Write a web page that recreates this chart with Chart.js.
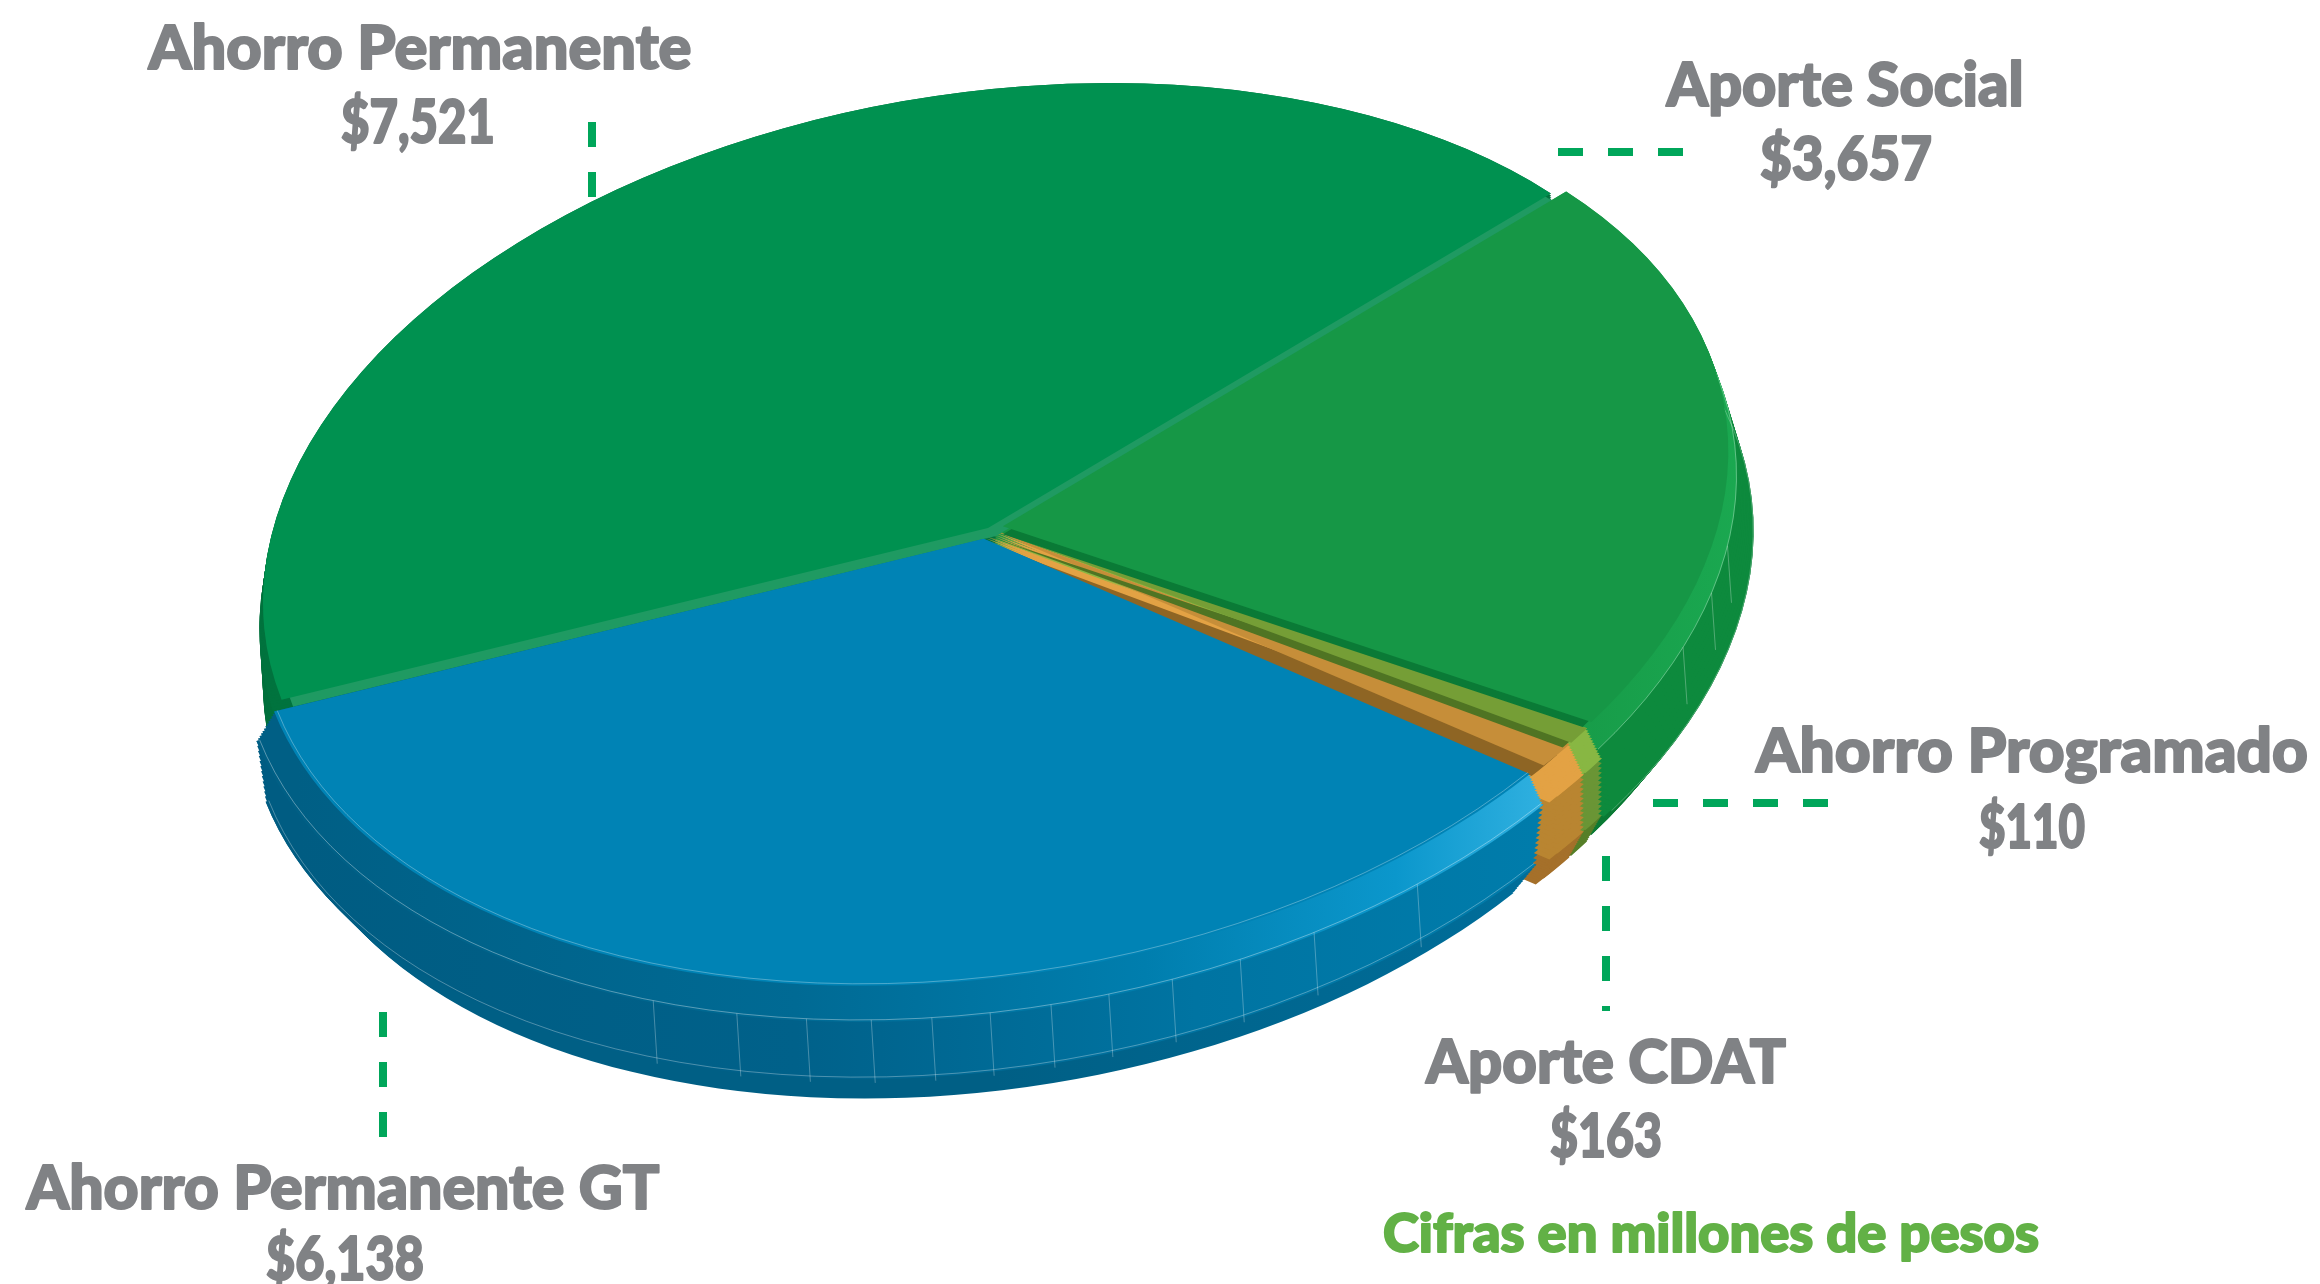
<!DOCTYPE html>
<html>
<head>
<meta charset="utf-8">
<title>Ahorros</title>
<script src="https://cdn.jsdelivr.net/npm/chart.js@4"></script>
<style>
  html, body { margin: 0; background: #fff; }
  canvas { display: block; }
</style>
</head>
<body>
<canvas id="myChart" width="2320" height="1284"></canvas>
<script>
const categories = ["Ahorro Permanente", "Aporte Social", "Ahorro Programado", "Aporte CDAT", "Ahorro Permanente GT"];
const values = [7521, 3657, 110, 163, 6138];
const note = "Cifras en millones de pesos";

// colours per slice
const topColors = ["#009150", "#169746", "#759e36", "#c68e39", "#0083b5"];
const wallColors = ["#00703c", "#0d8a3d", "#6a9535", "#b98531", "#0078a6"];
const lipColors = ["#006a38", "#0a7a34", "#567f28", "#a5702a", "#00608a"];
const bevelColors = ["#00733e", "#17a04b", "#88b743", "#e3a244", "#0083b5"];
const stepColors = ["#1f9a62", "#0a7a36", "#4f7423", "#8e6524", "#0083b5"];
const explode = [0, 50, 25, 25, 60];

// how far each rim layer sticks out past the flat top, per slice
const topGrow = [1, 1, 1, 1, 1];
const bevelGrow = [1.005, 1.012, 1.025, 1.025, 1.025];
const wallGrow = [1, 1.035, 1.025, 1.025, 1.012];
const lipGrow = [0.99, 1, 1, 1, 0.97];
const topDrops = [0, 0, 0, 0, 0];
const bevelDrops = [25, 25, 25, 25, 25];
const wallDrops = [82, 82, 82, 82, 88];
const lipDrops = [113, 113, 113, 113, 126];

// where the flat top of the pie sits on the page (tilted ellipse)
const pieCenter = { x: 988, y: 528 };
const pieAxes = { xx: 725, yx: -74.9, yy: 438.6 };

// faint seams on the side wall, slice index -> angle in degrees
const seams = {
  1: [9, 15, 22],
  4: [54.3, 63.6, 69.8, 75.3, 80.3, 84.8, 89.5, 94, 98.7, 103.8, 109.4, 116.4],
};

const labelSpots = [
  { x: 420, y: 69, w: 543, vx: 418, vy: 143, vw: 154 },
  { x: 1845, y: 106, w: 357, vx: 1846, vy: 180, vw: 172 },
  { x: 2032, y: 772, w: 552, vx: 2032, vy: 848, vw: 106 },
  { x: 1606, y: 1083, w: 360, vx: 1606, vy: 1157, vw: 112 },
  { x: 343, y: 1209, w: 633, vx: 345, vy: 1280, vw: 158 },
];

const leaders = [
  [592, 122, 592, 197],
  [1558, 152, 1683, 152],
  [1653, 803, 1832, 803],
  [1606, 856, 1606, 1011],
  [383, 1012, 383, 1137],
];

function viewOf(arc) {
  const r = arc.outerRadius;
  const a = pieAxes.xx / r, b = pieAxes.yx / r, d = pieAxes.yy / r;
  return { a, b, c: 0, d, e: pieCenter.x - a * arc.x, f: pieCenter.y - b * arc.x - d * arc.y };
}

function xGradient(ctx, view, stops) {
  const g = ctx.createLinearGradient((stops[0][0] - view.e) / view.a, 0, (stops[stops.length - 1][0] - view.e) / view.a, 0);
  const first = stops[0][0];
  const span = stops[stops.length - 1][0] - first;
  stops.forEach((s) => g.addColorStop((s[0] - first) / span, s[1]));
  return g;
}

const pie3d = {
  id: "pie3d",
  beforeDatasetsDraw(chart) {
    const ctx = chart.ctx;
    const arcs = chart.getDatasetMeta(0).data;
    const view = viewOf(arcs[0]);
    const baseRadius = arcs[0].outerRadius;

    function paint(i, color, rMul, dx, dy) {
      const arc = arcs[i];
      const savedOptions = arc.options;
      const savedRadius = arc.outerRadius;
      arc.options = {
        backgroundColor: color, borderColor: color, borderWidth: 0, borderRadius: 0,
        offset: savedOptions.offset, spacing: 0, circular: true, borderAlign: "center",
      };
      arc.outerRadius = savedRadius * rMul;
      ctx.setTransform(view.a, view.b, view.c, view.d, view.e + dx, view.f + dy);
      arc.draw(ctx);
      arc.options = savedOptions;
      arc.outerRadius = savedRadius;
    }

    function arcShift(arc) {
      const half = (arc.startAngle + arc.endAngle) / 2;
      const o = arc.options.offset / 4;
      return { x: arc.x + Math.cos(half) * o, y: arc.y + Math.sin(half) * o };
    }

    function rimLine(i, rMul, dy, style) {
      const arc = arcs[i];
      const p = arcShift(arc);
      ctx.setTransform(view.a, view.b, view.c, view.d, view.e, view.f + dy);
      ctx.beginPath();
      ctx.arc(p.x, p.y, baseRadius * rMul, arc.startAngle, arc.endAngle);
      ctx.setTransform(1, 0, 0, 1, 0, 0);
      ctx.strokeStyle = style;
      ctx.lineWidth = 1;
      ctx.stroke();
    }

    function seamLine(i, deg, rMul, dy1, dy2) {
      const p = arcShift(arcs[i]);
      const t = (deg * Math.PI) / 180;
      const x = p.x + Math.cos(t) * baseRadius * rMul;
      const y = p.y + Math.sin(t) * baseRadius * rMul;
      const px = view.a * x + view.c * y + view.e;
      const py = view.b * x + view.d * y + view.f;
      ctx.setTransform(1, 0, 0, 1, 0, 0);
      ctx.beginPath();
      ctx.moveTo(px, py + dy1);
      ctx.lineTo(px + 4, py + dy2);
      ctx.strokeStyle = "rgba(255,255,255,0.28)";
      ctx.lineWidth = 1;
      ctx.stroke();
    }

    // sweep one band of the rim from its lower edge up to its upper edge, so
    // the corners of the slices join up. The small slices get a copy nudged
    // towards their lower neighbour first, exploding them leaves no white slit
    function band(colorOf, growUp, dropsUp, growDown, dropsDown) {
      const steps = 12;
      for (let s = steps; s >= 0; s--) {
        const t = s / steps;
        const r = (i) => growUp[i] + (growDown[i] - growUp[i]) * t;
        const d = (i) => dropsUp[i] + (dropsDown[i] - dropsUp[i]) * t;
        [1, 2, 3].forEach((i) => paint(i, colorOf(i), r(i), -8, d(i) + 6));
        [0, 1, 2, 3, 4].forEach((i) => paint(i, colorOf(i), r(i), 0, d(i)));
      }
    }

    const blueLip = xGradient(ctx, view, [[300, "#005f85"], [1000, "#005f85"], [1580, "#006f9c"]]);
    const blueWall = xGradient(ctx, view, [[300, "#005c82"], [800, "#00618a"], [1200, "#0074a2"], [1580, "#007dac"]]);
    const blueBevel = xGradient(ctx, view, [[300, "#005f85"], [800, "#006a94"], [1150, "#007eae"], [1400, "#0b97cc"], [1570, "#35b4e3"]]);
    const greenBevel = xGradient(ctx, view, [[1500, "#169746"], [1760, "#1bab52"]]);

    ctx.save();
    // lip, side wall and bevel, bottom to top
    band((i) => (i === 4 ? blueLip : lipColors[i]), wallGrow, wallDrops, lipGrow, lipDrops);
    band((i) => (i === 4 ? blueWall : wallColors[i]), bevelGrow, bevelDrops, wallGrow, wallDrops);
    band((i) => (i === 4 ? blueBevel : i === 1 ? greenBevel : bevelColors[i]), topGrow, topDrops, bevelGrow, bevelDrops);

    Object.keys(seams).forEach((i) => seams[i].forEach((deg) => seamLine(+i, deg, bevelGrow[i], bevelDrops[i], wallDrops[i])));
    rimLine(4, bevelGrow[4], bevelDrops[4], "rgba(255,255,255,0.35)");
    rimLine(4, wallGrow[4], wallDrops[4], "rgba(255,255,255,0.3)");
    rimLine(1, bevelGrow[1], bevelDrops[1], "rgba(255,255,255,0.3)");
    rimLine(1, wallGrow[1], wallDrops[1], "rgba(255,255,255,0.25)");

    // flat tops, back to front, each small slice leaves a dark step on its lower side
    paint(3, stepColors[3], 0.985, -4, 14);
    paint(3, topColors[3], 1, 0, 0);
    paint(2, stepColors[2], 0.985, 0, 8);
    paint(2, topColors[2], 1, 0, 0);
    paint(0, stepColors[0], 0.995, 8, 8);
    paint(0, topColors[0], 1, 0, 0);
    paint(1, stepColors[1], 0.985, 0, 8);
    paint(1, topColors[1], 1, 0, 0);
    paint(4, topColors[4], 1, 0, 0);
    rimLine(4, 1, 0, "rgba(255,255,255,0.3)");
    ctx.restore();
    return false;
  },
  afterDraw(chart) {
    const ctx = chart.ctx;
    ctx.save();
    ctx.setTransform(1, 0, 0, 1, 0, 0);

    ctx.strokeStyle = "#00a65a";
    ctx.lineWidth = 8;
    ctx.setLineDash([25, 25]);
    leaders.forEach((l) => {
      ctx.beginPath();
      ctx.moveTo(l[0], l[1]);
      ctx.lineTo(l[2], l[3]);
      ctx.stroke();
    });
    ctx.setLineDash([]);

    function fitText(text, x, y, width, font, color) {
      ctx.font = font;
      ctx.fillStyle = color;
      ctx.strokeStyle = color;
      ctx.lineWidth = 2;
      ctx.lineJoin = "round";
      ctx.textAlign = "center";
      ctx.textBaseline = "alphabetic";
      const k = width / ctx.measureText(text).width;
      ctx.save();
      ctx.translate(x, y);
      ctx.scale(k, 1);
      ctx.strokeText(text, 0, 0);
      ctx.fillText(text, 0, 0);
      ctx.restore();
    }

    const font = '900 60px Lato, "Open Sans", sans-serif';
    categories.forEach((name, i) => {
      const s = labelSpots[i];
      fitText(name, s.x, s.y, s.w, font, "#808285");
      fitText("$" + values[i].toLocaleString("en-US"), s.vx, s.vy, s.vw, font, "#808285");
    });
    fitText(note, 1711, 1252, 656, '900 54px Lato, "Open Sans", sans-serif', "#62b146");
    ctx.restore();
  },
};

const myChart = new Chart(document.getElementById("myChart"), {
  type: "pie",
  data: {
    labels: categories,
    datasets: [{ data: values, backgroundColor: topColors, borderWidth: 0, offset: explode }],
  },
  options: {
    responsive: false,
    animation: false,
    rotation: 257,
    plugins: { legend: { display: false }, tooltip: { enabled: false } },
  },
  plugins: [pie3d],
});
</script>
</body>
</html>
